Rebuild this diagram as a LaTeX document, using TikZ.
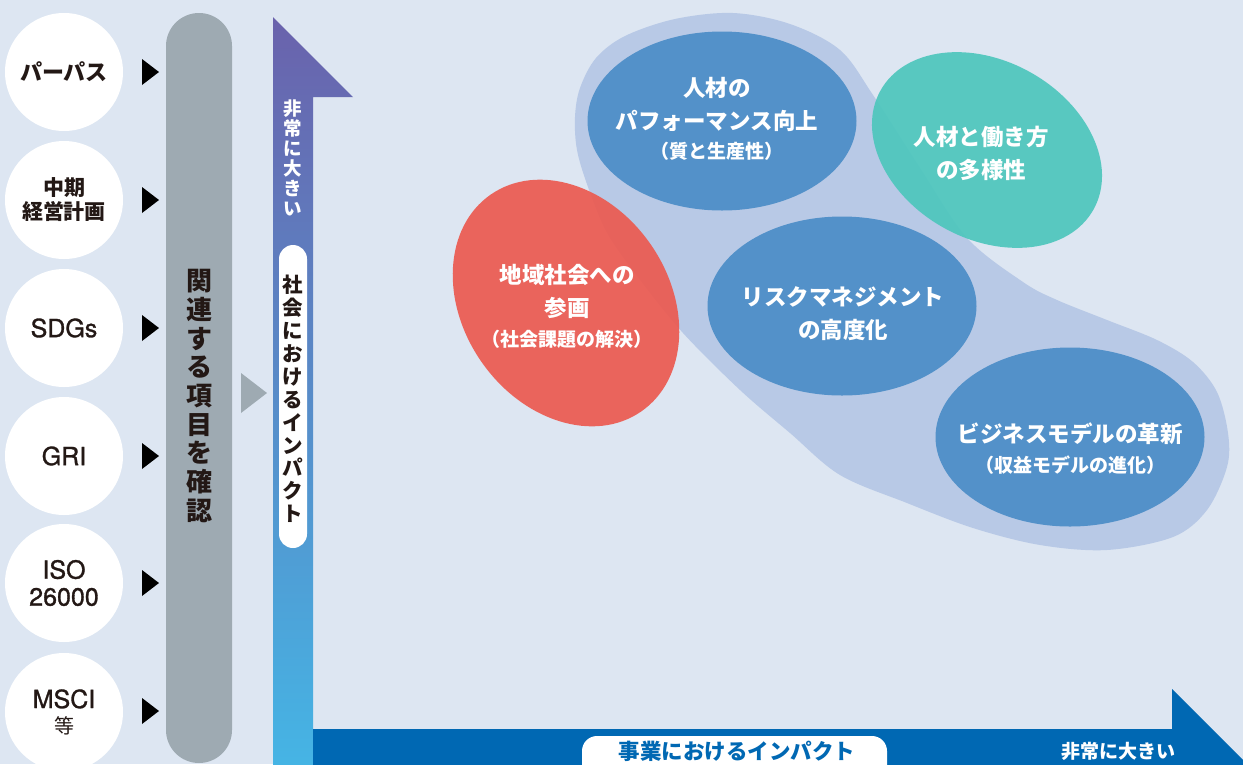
\documentclass[tikz,border=0pt]{standalone}
\usepackage{fontspec}
\newfontfamily\jp{Noto Sans CJK JP}
\newfontfamily\hv{TeX Gyre Heros}[FakeBold=1.2]
\usetikzlibrary{shapes.geometric}
\definecolor{bgc}{HTML}{DDE6F2}
\definecolor{blobc}{HTML}{B8C9E6}
\definecolor{bluee}{HTML}{5391C9}
\definecolor{rede}{HTML}{EC5A50}
\definecolor{teale}{HTML}{4EC6BD}
\definecolor{grayb}{HTML}{9EAAB2}
\definecolor{darktxt}{HTML}{231815}
\definecolor{harrow}{HTML}{0068B3}
\definecolor{vtop}{HTML}{6A62AC}
\definecolor{vbot}{HTML}{45B5E5}
\tikzset{
  srccircle/.style={circle, fill=white, minimum size=118pt, inner sep=0pt, text=darktxt, align=center},
  bubble/.style={ellipse, fill=bluee, minimum width=269pt, minimum height=179pt, inner sep=0pt},
  bubbletext/.style={text=white, align=center, font=\jp\bfseries\fontsize{22.5}{33}\selectfont},
  blacktri/.style={fill=black},
}
\begin{document}
\begin{tikzpicture}[x=1pt,y=-1pt]
\clip (0,0) rectangle (1243,764);
\fill[bgc] (0,0) rectangle (1243,764);

% left source circles
\node[srccircle, font=\jp\bfseries\fontsize{22}{24}\selectfont] (c1) at (64,72) {パーパス};
\node[srccircle, font=\jp\bfseries\fontsize{21}{24}\selectfont] (c2) at (64,200) {中期\\経営計画};
\node[srccircle, font=\hv\fontsize{25}{27}\selectfont] (c3) at (64,328) {SDGs};
\node[srccircle, font=\hv\fontsize{25}{27}\selectfont] (c4) at (64,456) {GRI};
\node[srccircle, font=\hv\fontsize{25}{27}\selectfont] (c5) at (64,583) {ISO\\26000};
\node[srccircle, font=\hv\fontsize{25}{25}\selectfont] (c6) at (64,712) {MSCI\\{\jp\fontsize{20}{20}\selectfont 等}};

% black triangles
\foreach \yy in {72,200,328,456,583,711}{
  \fill[blacktri] (142,\yy-13) -- (159,\yy) -- (142,\yy+13) -- cycle;
}

% gray bar
\fill[grayb, rounded corners=33pt] (166,13) rectangle (232,763);
\node[text=darktxt, align=center, font=\jp\bfseries\fontsize{26}{28.7}\selectfont] (bar) at (199,396)
  {関\\連\\す\\る\\項\\目\\を\\確\\認};
\fill[grayb] (241,373) -- (267,393) -- (241,413) -- cycle;

% vertical axis arrow
\shade[top color=vtop, bottom color=vbot] (273,770) -- (273,17) -- (353,97) -- (313,97) -- (313,770) -- cycle;
\node[text=white, align=center, font=\jp\bfseries\fontsize{18.5}{20}\selectfont] (vbig) at (293,158)
  {非\\常\\に\\大\\き\\い};
\fill[white, rounded corners=14pt] (279,245) rectangle (307,548);
\node[text=darktxt, align=center, font=\jp\bfseries\fontsize{20.5}{22.9}\selectfont] (vlab) at (293,399)
  {社\\会\\に\\お\\け\\る\\イ\\ン\\パ\\ク\\ト};

% horizontal axis arrow
\fill[harrow] (313,729) -- (1172,729) -- (1172,689) -- (1252,769) -- (313,769) -- cycle;
\fill[white, rounded corners=15pt] (582,736) rectangle (887,790);
\node[text=harrow, font=\jp\bfseries\fontsize{21.5}{21.5}\selectfont] (hlab) at (737,751) {事業におけるインパクト};
\node[text=white, font=\jp\bfseries\fontsize{19}{19}\selectfont] (hbig) at (1118,751) {非常に大きい};

% blob
\fill[blobc] plot[smooth cycle, tension=0.55] coordinates {
 (733,13) (790,24) (840,50) (873,95) (920,168) (967,238) (1023,282) (1057,300) (1107,320)
 (1157,340) (1193,362) (1217,392) (1228,433) (1227,467) (1207,510) (1173,537) (1107,550)
 (1040,545) (973,528) (907,503) (840,475) (790,433) (740,390) (683,333) (640,280) (607,233)
 (588,187) (577,150) (575,117) (580,88) (596,58) (625,36) (675,19)};

% blue bubbles
\node[bubble] (e1) at (722,121) {};
\node[bubble] (e3) at (842,306) {};
\node[bubble] (e4) at (1070,437) {};
\node[bubbletext] (t1) at (717,119) {人材の\\パフォーマンス向上\\[-4pt]{\fontsize{19}{22}\selectfont（質と生産性）}};
\node[bubbletext] (t3) at (843,314) {リスクマネジメント\\の高度化};
\node[bubbletext] (t4) at (1070,449) {ビジネスモデルの革新\\[-3pt]{\fontsize{19}{22}\selectfont（収益モデルの進化）}};

% teal and red ellipses
\fill[teale, opacity=0.93] (987,150) ellipse [x radius=122, y radius=89, rotate=-29.2];
\node[bubbletext] (t2) at (981,153) {人材と働き方\\の多様性};
\fill[rede, opacity=0.92] (566,303) ellipse [x radius=132, y radius=103, rotate=-55.2];
\node[bubbletext] (t5) at (567,306) {地域社会への\\参画\\[-3pt]{\fontsize{19}{22}\selectfont（社会課題の解決）}};
\end{tikzpicture}
\end{document}
